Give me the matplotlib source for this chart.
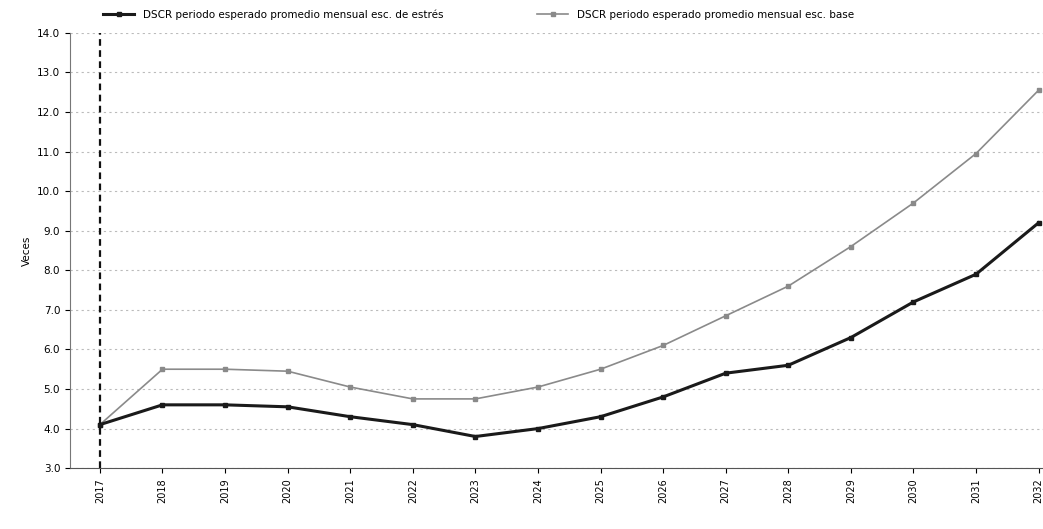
import matplotlib
matplotlib.use('Agg')
import matplotlib.pyplot as plt

# DSCR por año, dos escenarios
anios = ['2017', '2018', '2019', '2020', '2021', '2022', '2023', '2024',
         '2025', '2026', '2027', '2028', '2029', '2030', '2031', '2032']
dscr_estres = [4.1, 4.6, 4.6, 4.55, 4.3, 4.1, 3.8, 4.0,
               4.3, 4.8, 5.4, 5.6, 6.3, 7.2, 7.9, 9.2]
dscr_base = [4.1, 5.5, 5.5, 5.45, 5.05, 4.75, 4.75, 5.05,
             5.5, 6.1, 6.85, 7.6, 8.6, 9.7, 10.95, 12.55]
yticks = [3, 4, 5, 6, 7, 8, 9, 10, 11, 12, 13, 14]

fig = plt.figure(figsize=(10.43, 5.29), dpi=100)
ax = fig.add_axes([0.067, 0.115, 0.933, 0.823])

x = list(range(len(anios)))
ax.plot(x, dscr_base, color='#8a8a8a', lw=1.2, marker='s', ms=3,
        label='DSCR periodo esperado promedio mensual esc. base')
ax.plot(x, dscr_estres, color='#1a1a1a', lw=2.2, marker='s', ms=3.5,
        label='DSCR periodo esperado promedio mensual esc. de estrés')
ax.axvline(0, color='#111111', lw=1.6, ls=(0, (3, 2)))

ax.set_xlim(-0.48, 15.07)
ax.set_ylim(3, 14)
ax.set_xticks(x)
ax.set_xticklabels(anios, rotation=90, fontsize=7)
ax.set_yticks(yticks)
ax.set_yticklabels([f'{v:.1f}' for v in yticks], fontsize=7.5)
ax.set_ylabel('Veces', fontsize=7.5)
ax.grid(axis='y', color='#bbbbbb', ls=(0, (2, 3)), lw=0.8)
ax.spines['top'].set_visible(False)
ax.spines['right'].set_visible(False)
ax.spines['left'].set_color('#777777')
ax.spines['bottom'].set_color('#555555')

h, l = ax.get_legend_handles_labels()
fig.legend(h[::-1], l[::-1], loc='upper left', bbox_to_anchor=(0.09, 1.0),
           ncol=2, frameon=False, fontsize=7.5, columnspacing=9,
           handlelength=3)

fig.savefig('out.png')
